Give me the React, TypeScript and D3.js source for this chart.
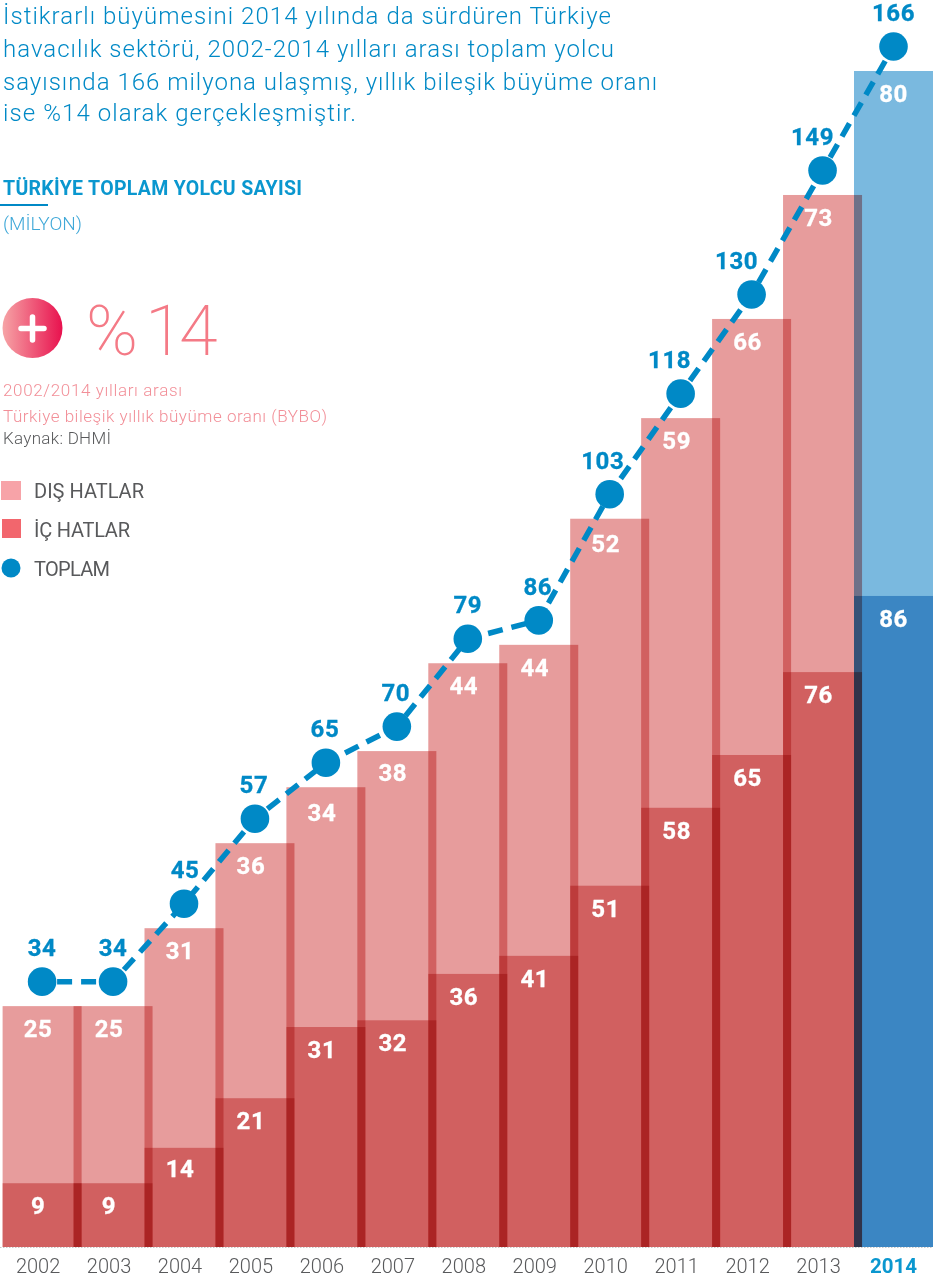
import React from "react";
import * as d3 from "d3";

const years = ["2002","2003","2004","2005","2006","2007","2008","2009","2010","2011","2012","2013","2014"];
const totalLabels = [34,34,45,57,65,70,79,86,103,118,130,149,166];
const domesticLabels = [9,9,14,21,31,32,36,41,51,58,65,76,86];
const internationalLabels = [25,25,31,36,34,38,44,44,52,59,66,73,80];
// heights as drawn in the picture (million)
const totalDrawn = [34,34,45,57,64.9,70,82.4,85,102.8,117,131,148.5,166];
const domesticDrawn = [9,9,14,21,31.05,32,38.55,41.1,51,62,69.45,81.15,91.9];

const paragraph = [
  "İstikrarlı büyümesini 2014 yılında da sürdüren Türkiye",
  "havacılık sektörü, 2002-2014 yılları arası toplam yolcu",
  "sayısında 166 milyona ulaşmış, yıllık bileşik büyüme oranı",
  "ise %14 olarak gerçekleşmiştir.",
];
const paragraphWidths = [608, 611, 654, 353];
const legendItems = ["DIŞ HATLAR", "İÇ HATLAR", "TOPLAM"];
const legendWidths = [110, 96, 76];

const W = 933, H = 1277;
const FONT = "Roboto, 'Noto Sans', sans-serif";
const BLUE = "#0089c6";
const barW = 79;
const x = d3.scaleLinear().domain([0, 12]).range([2.6, 854]);
const y = d3.scaleLinear().domain([0, 166]).range([1247, 71]);
const totalDx = [0,0,1,-1,-1,-1,0,-1,-7,-11,-15,-10,0];
const intlDy = [0,0,0,0,3,-1,0,0,2,0,0,0,0];
const domDy = [0,0,-2,0,0,0,0,0,0,0,0,0,0];

export default function App() {
  const pts: [number, number][] = totalDrawn.map((v, i) => [x(i) + barW / 2, y(v) - 24.5]);
  const line = d3.line()(pts) as string;
  return (
    <svg width={W} height={H} viewBox={`0 0 ${W} ${H}`}
      style={{ position: "absolute", left: 0, top: 0, background: "#fff", isolation: "isolate" }}
      fontFamily={FONT}>
      <defs>
        <linearGradient id="plus" x1="0" x2="1" y1="0" y2="0">
          <stop offset="0" stopColor="#f6a4a6" />
          <stop offset="1" stopColor="#e8114e" />
        </linearGradient>
      </defs>

      {paragraph.map((t, i) => (
        <text key={t} x={3} y={[24, 56.5, 89.5, 120.5][i]} fontSize={24} fontWeight={300} fill={BLUE}
          textLength={paragraphWidths[i]} lengthAdjust="spacing">{t}</text>
      ))}

      <text x={3} y={195} fontSize={19.5} fontWeight={700} fill="#0a97cf" textLength={299} lengthAdjust="spacing">TÜRKİYE TOPLAM YOLCU SAYISI</text>
      <rect x={0} y={204} width={48} height={2} fill={BLUE} />
      <text x={3} y={230} fontSize={19} fontWeight={300} fill="#3fa8d8" textLength={79} lengthAdjust="spacing">(MİLYON)</text>

      <circle cx={32.5} cy={328} r={30} fill="url(#plus)" />
      <path d="M21 328.5H44M32.5 317V340" stroke="#fff" strokeWidth={5.5} strokeLinecap="round" fill="none" />
      <text x="86 145 179" y={354.5} fontSize={70} fontWeight={200} fill="#f47a86">%14</text>

      <text x={3} y={396} fontSize={17} fontWeight={300} fill="#f28f98" textLength={179} lengthAdjust="spacing">2002/2014 yılları arası</text>
      <text x={3} y={422} fontSize={17} fontWeight={300} fill="#f28f98" textLength={324} lengthAdjust="spacing">Türkiye bileşik yıllık büyüme oranı (BYBO)</text>
      <text x={3} y={444} fontSize={17} fontWeight={300} fill="#58595b" textLength={108} lengthAdjust="spacing">Kaynak: DHMİ</text>

      <rect x={1} y={481} width={20} height={19} fill="#f7a3a8" />
      <rect x={2} y={519} width={19} height={19} fill="#f2666d" />
      <circle cx={11} cy={568} r={9.5} fill={BLUE} />
      {legendItems.map((t, i) => (
        <text key={t} x={34} y={497.5 + i * 39} fontSize={20} fill="#58595b" textLength={legendWidths[i]} lengthAdjust="spacing">{t}</text>
      ))}

      {years.map((yr, i) => {
        const c = i === 12 ? "#7ab9df" : "#e79c9c";
        return (
          <g key={yr}>
            <rect x={x(i)} y={y(totalDrawn[i])} width={barW} height={y(0) - y(totalDrawn[i])} fill={c} style={{ mixBlendMode: "multiply" }} />
            <rect x={x(i)} y={y(domesticDrawn[i])} width={barW} height={y(0) - y(domesticDrawn[i])} fill={c} style={{ mixBlendMode: "multiply" }} />
          </g>
        );
      })}

      <line x1={0} x2={W} y1={y(0) + 0.5} y2={y(0) + 0.5} stroke="#c8c8c8" strokeWidth={1} strokeDasharray="1.5 1.5" />

      <path d={line} fill="none" stroke={BLUE} strokeWidth={5.5} strokeDasharray="15 9" strokeDashoffset={9} />
      {pts.map((p, i) => <circle key={years[i]} cx={p[0]} cy={p[1]} r={14.3} fill={BLUE} />)}

      {years.map((yr, i) => {
        const cx = x(i) + barW / 2;
        const lx = i === 12 ? cx : cx - 4;
        return (
          <g key={yr} textAnchor="middle">
            <text x={cx + totalDx[i]} y={pts[i][1] - 25.5} fontSize={24} fontWeight={700} fill={BLUE} letterSpacing={0.6} stroke={BLUE} strokeWidth={0.3}>{totalLabels[i]}</text>
            <text x={lx} y={y(totalDrawn[i]) + 31 + intlDy[i]} fontSize={24} fontWeight={700} fill="#fff" letterSpacing={0.6} stroke="#fff" strokeWidth={0.3}>{internationalLabels[i]}</text>
            <text x={lx} y={y(domesticDrawn[i]) + 31 + domDy[i]} fontSize={24} fontWeight={700} fill="#fff" letterSpacing={0.6} stroke="#fff" strokeWidth={0.3}>{domesticLabels[i]}</text>
            <text x={lx} y={1272.5} fontSize={i === 12 ? 20.5 : 20} fontWeight={i === 12 ? 700 : 300} fill={i === 12 ? "#0a97cf" : "#58595b"}>{yr}</text>
          </g>
        );
      })}
    </svg>
  );
}
